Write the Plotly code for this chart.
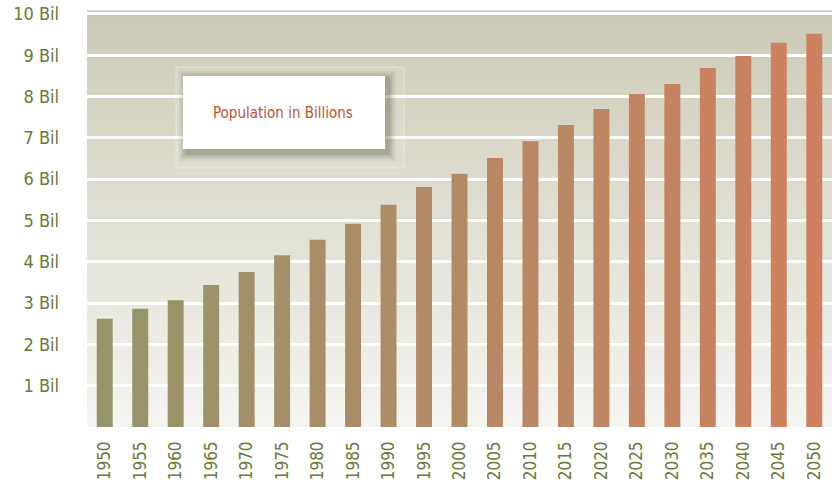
import plotly.graph_objects as go

years = ["1950", "1955", "1960", "1965", "1970", "1975", "1980", "1985", "1990", "1995",
         "2000", "2005", "2010", "2015", "2020", "2025", "2030", "2035", "2040", "2045", "2050"]
population_bil = [2.62, 2.86, 3.07, 3.44, 3.75, 4.16, 4.53, 4.92, 5.38, 5.81,
                  6.13, 6.51, 6.92, 7.31, 7.70, 8.06, 8.30, 8.69, 8.98, 9.30, 9.52]
y_tick_vals = [1, 2, 3, 4, 5, 6, 7, 8, 9, 10]
y_tick_text = ["1 Bil", "2 Bil", "3 Bil", "4 Bil", "5 Bil", "6 Bil", "7 Bil", "8 Bil", "9 Bil", "10 Bil"]
legend_label = "Population in Billions"

FONT = "Liberation Sans Narrow, DejaVu Sans Condensed, Arial Narrow, sans-serif"
LABEL_COLOR = "#6b7838"


def lerp(c1, c2, t):
    return "rgb({},{},{})".format(*[round(a + (b - a) * t) for a, b in zip(c1, c2)])


start_c, end_c = (150, 148, 107), (208, 128, 94)
n = len(years)
bar_colors = [lerp(start_c, end_c, i / (n - 1)) for i in range(n)]

fig = go.Figure()
fig.add_trace(go.Bar(x=years, y=population_bil, marker=dict(color=bar_colors, line=dict(width=0)),
                     width=0.45, name=legend_label, showlegend=False, hoverinfo="x+y"))

PL, PR, PT, PB = 87, 832, 11, 427
PW, PH = PR - PL, PB - PT


def px(x):
    return (x - PL) / PW


def py(y):
    return (PB - y) / PH


shapes = []
# vertical gradient background of the plot area (darker at top, lighter at bottom)
bands = 60
top_c, bot_c = (204, 202, 182), (245, 245, 241)
for i in range(bands):
    y0 = i / bands
    y1 = (i + 1) / bands
    ymid = (y0 + y1) / 2
    shapes.append(dict(type="rect", xref="x domain", yref="y domain", x0=0, x1=1, y0=y0, y1=y1 + 0.002,
                       fillcolor=lerp(bot_c, top_c, ymid), line=dict(width=0), layer="below"))

# legend box frame + shadow
shapes.append(dict(type="rect", xref="paper", yref="paper", x0=px(176), x1=px(404),
                   y0=py(168), y1=py(67), fillcolor="rgba(255,255,255,0.10)",
                   line=dict(color="rgba(255,255,255,0.35)", width=1), layer="above"))
for k, a in [(7, 0.07), (5, 0.09), (3, 0.12), (1, 0.16)]:
    shapes.append(dict(type="rect", xref="paper", yref="paper",
                       x0=px(183 + 3 - k), x1=px(385 + 4 + k),
                       y0=py(149 + 5 + k), y1=py(76 + 2 - k),
                       fillcolor="rgba(80,80,60,{})".format(a), line=dict(width=0), layer="above"))
shapes.append(dict(type="rect", xref="paper", yref="paper", x0=px(183), x1=px(385),
                   y0=py(149), y1=py(76), fillcolor="white",
                   line=dict(width=0), layer="above"))

fig.update_layout(
    width=834, height=486,
    margin=dict(l=PL, r=834 - PR, t=PT, b=486 - PB, autoexpand=False),
    paper_bgcolor="white",
    plot_bgcolor="rgba(0,0,0,0)",
    shapes=shapes,
    annotations=[dict(text=legend_label, xref="paper", yref="paper",
                      x=px(283), y=py(113), xanchor="center", yanchor="middle", showarrow=False,
                      font=dict(family=FONT, size=15, color="#c0522f"))],
    xaxis=dict(type="category", tickangle=-90, showgrid=False, zeroline=False, showline=False,
               automargin=False, ticks="", tickfont=dict(family=FONT, size=17, color=LABEL_COLOR),
               ticklabelstandoff=10),
    yaxis=dict(range=[0, 10.07], tickvals=y_tick_vals, ticktext=y_tick_text, showgrid=True,
               gridcolor="white", gridwidth=3, zeroline=False, showline=False, ticks="",
               automargin=False, tickfont=dict(family=FONT, size=18, color=LABEL_COLOR),
               ticklabelstandoff=27),
    showlegend=False,
)

fig.write_html("out.html", config={"displayModeBar": False},
               post_script="document.body.style.margin='0';")
